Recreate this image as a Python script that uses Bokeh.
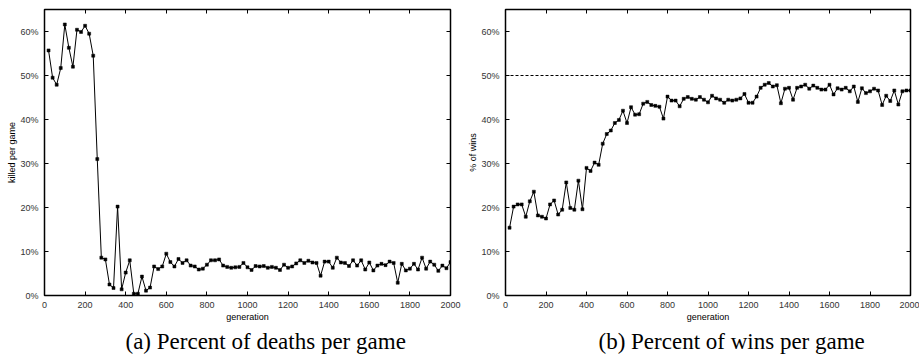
from bokeh.plotting import figure
from bokeh.models import (Range1d, LinearAxis, FixedTicker, PrintfTickFormatter,
                          Span, Title, ColumnDataSource)
from bokeh.layouts import row
from bokeh.embed import file_html
from bokeh.resources import INLINE

generations = list(range(20, 2001, 20))

killed_pct = [
    55.7, 49.5, 47.9, 51.7, 61.6, 56.3, 52.0, 60.4, 59.9, 61.3,
    59.5, 54.5, 31.0, 8.6, 8.2, 2.5, 1.7, 20.2, 1.4, 5.2,
    8.0, 0.4, 0.4, 4.3, 1.1, 1.8, 6.6, 6.0, 6.6, 9.5,
    7.6, 6.6, 8.3, 7.4, 8.0, 6.8, 6.6, 5.9, 6.1, 7.0,
    8.0, 8.0, 8.2, 6.8, 6.5, 6.3, 6.4, 6.5, 7.4, 6.4,
    5.8, 6.7, 6.6, 6.7, 6.3, 6.5, 6.3, 5.8, 7.0, 6.3,
    6.6, 7.3, 8.0, 7.4, 7.9, 7.5, 7.4, 4.5, 7.7, 7.7,
    6.3, 8.6, 7.5, 7.4, 6.7, 8.0, 6.8, 8.0, 5.9, 7.5,
    5.7, 6.8, 7.2, 6.9, 7.7, 7.4, 2.9, 7.2, 5.7, 6.1,
    7.2, 5.9, 8.6, 6.1, 7.7, 7.0, 5.6, 6.8, 6.2, 7.6,
]

wins_pct = [
    15.4, 20.2, 20.7, 20.7, 17.9, 21.4, 23.6, 18.2, 17.9, 17.5,
    20.7, 21.6, 18.4, 19.5, 25.7, 19.9, 19.5, 26.1, 19.6, 29.0,
    28.3, 30.2, 29.7, 34.5, 36.7, 37.5, 39.2, 39.9, 42.0, 39.2,
    42.8, 41.1, 41.2, 43.6, 44.0, 43.3, 43.1, 42.9, 40.2, 45.2,
    44.3, 44.3, 43.0, 44.7, 45.1, 44.7, 44.5, 45.1, 44.5, 43.9,
    45.4, 44.8, 44.5, 43.8, 44.5, 44.3, 44.5, 44.8, 45.8, 43.8,
    43.8, 45.2, 47.2, 47.9, 48.3, 47.5, 47.8, 43.7, 47.0, 47.2,
    44.5, 47.2, 47.5, 47.9, 47.0, 47.7, 47.2, 46.8, 46.8, 47.9,
    45.7, 47.1, 46.8, 47.2, 46.4, 47.5, 44.0, 47.1, 46.0, 46.4,
    47.0, 46.6, 43.3, 45.4, 44.2, 46.6, 43.4, 46.4, 46.6, 46.6,
]

x_ticks = [0, 200, 400, 600, 800, 1000, 1200, 1400, 1600, 1800, 2000]
y_ticks = [0, 10, 20, 30, 40, 50, 60]
reference_line = 50

y_labels = ["killed per game", "% of wins"]
captions = ["(a) Percent of deaths per game", "(b) Percent of wins per game"]

FONT = "Liberation Sans"
TICK_COLOR = "#333333"


def style_axis(ax, ticks, show_labels=True):
    ax.ticker = FixedTicker(ticks=ticks)
    ax.major_tick_in = 4
    ax.major_tick_out = 0
    ax.major_tick_line_color = "black"
    ax.major_tick_line_width = 1
    ax.minor_tick_line_color = None
    ax.axis_line_color = None
    ax.major_label_text_font = FONT
    ax.major_label_text_font_size = "9px"
    if show_labels:
        ax.major_label_text_color = TICK_COLOR
        ax.major_label_standoff = 6
    else:
        ax.major_label_text_color = None
        ax.major_label_text_font_size = "1px"
        ax.major_label_standoff = 0


def make_panel(values, ylabel, caption, width, left_border, right_border, caption_offset, dashed=None):
    p = figure(width=width, height=358, output_backend="svg", toolbar_location=None,
               x_range=Range1d(0, 2000), y_range=Range1d(0, 65),
               min_border_left=left_border, min_border_right=right_border,
               min_border_top=9, min_border_bottom=63)
    p.xgrid.visible = False
    p.ygrid.visible = False
    p.outline_line_color = "black"
    p.outline_line_width = 1.5
    p.background_fill_color = "white"
    p.border_fill_color = "white"

    style_axis(p.xaxis[0], x_ticks)
    style_axis(p.yaxis[0], y_ticks)
    p.yaxis[0].formatter = PrintfTickFormatter(format="%d%%")

    for ax, lbl in ((p.xaxis[0], "generation"), (p.yaxis[0], ylabel)):
        ax.axis_label = lbl
        ax.axis_label_text_font = FONT
        ax.axis_label_text_font_size = "9px"
        ax.axis_label_text_font_style = "normal"
        ax.axis_label_text_color = "black"
    p.xaxis[0].axis_label_standoff = 1
    p.yaxis[0].axis_label_standoff = 0

    top = LinearAxis()
    style_axis(top, x_ticks, show_labels=False)
    p.add_layout(top, "above")
    right = LinearAxis()
    style_axis(right, y_ticks, show_labels=False)
    p.add_layout(right, "right")

    if dashed is not None:
        p.add_layout(Span(location=dashed, dimension="width", line_color="black",
                          line_width=1, line_dash="3 2"))

    src = ColumnDataSource(dict(x=generations, y=values))
    p.line("x", "y", source=src, line_color="black", line_width=1)
    p.scatter("x", "y", source=src, marker="square", size=3.0,
              fill_color="black", line_color="black", line_width=0.5)

    p.add_layout(Title(text=caption, text_font="Liberation Serif", text_font_size="23px",
                       text_font_style="normal", text_color="black", align="left",
                       offset=caption_offset, standoff=5), "below")
    return p


p1 = make_panel(killed_pct, y_labels[0], captions[0], 462, 44, 12, 81)
p2 = make_panel(wins_pct, y_labels[1], captions[1], 457, 43, 9, 93, dashed=reference_line)

layout = row(p1, p2)
open("out.html", "w").write(file_html(layout, INLINE))
